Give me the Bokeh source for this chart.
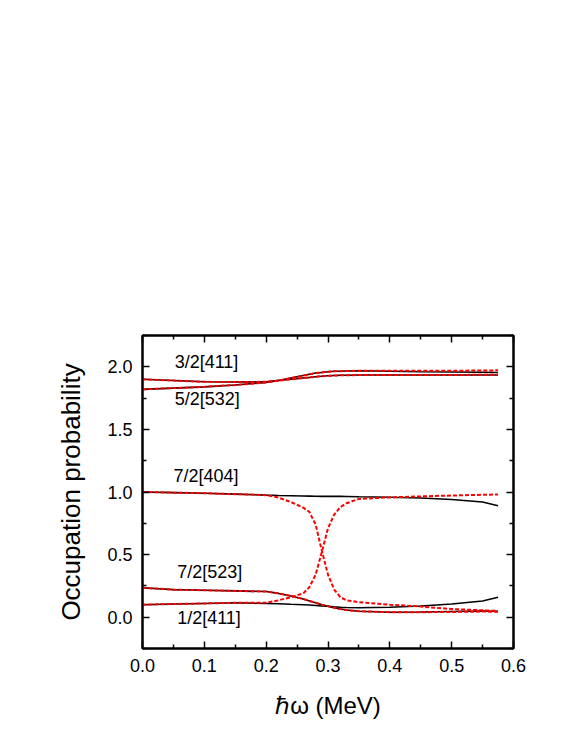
from bokeh.plotting import figure
from bokeh.models import (LinearAxis, Range1d, FixedTicker, CustomJSTickFormatter,
                          PrintfTickFormatter, Label)
from bokeh.embed import file_html
from bokeh.resources import INLINE

# shared rotational frequency grid (MeV)
hw = [0.0, 0.05, 0.1, 0.15, 0.2, 0.22, 0.24, 0.26, 0.27, 0.28, 0.29, 0.30,
      0.31, 0.32, 0.33, 0.35, 0.4, 0.45, 0.5, 0.55, 0.575]

# black solid curves
blk_upper_top = [1.90, 1.89, 1.88, 1.878, 1.88, 1.89, 1.90, 1.91, 1.915, 1.92, 1.925,
                 1.928, 1.93, 1.932, 1.933, 1.934, 1.934, 1.934, 1.934, 1.934, 1.934]
blk_lower_top = [1.82, 1.83, 1.84, 1.855, 1.875, 1.89, 1.91, 1.93, 1.94, 1.95, 1.955,
                 1.96, 1.965, 1.965, 1.967, 1.968, 1.965, 1.96, 1.958, 1.956, 1.955]
blk_404 = [1.0, 0.995, 0.99, 0.983, 0.975, 0.972, 0.97, 0.968, 0.967, 0.966, 0.965,
           0.965, 0.965, 0.965, 0.964, 0.962, 0.958, 0.952, 0.94, 0.92, 0.89]
blk_523 = [0.235, 0.22, 0.215, 0.21, 0.205, 0.19, 0.17, 0.145, 0.13, 0.115, 0.1,
           0.088, 0.075, 0.065, 0.057, 0.048, 0.04, 0.042, 0.046, 0.05, 0.048]
blk_411 = [0.10, 0.105, 0.11, 0.115, 0.11, 0.107, 0.103, 0.1, 0.097, 0.094, 0.09,
           0.087, 0.083, 0.08, 0.078, 0.075, 0.08, 0.09, 0.105, 0.13, 0.16]

# red dashed curves
red_upper_top = [1.90, 1.89, 1.88, 1.878, 1.88, 1.89, 1.90, 1.91, 1.915, 1.92, 1.925,
                 1.928, 1.93, 1.932, 1.933, 1.934, 1.934, 1.935, 1.935, 1.936, 1.936]
red_lower_top = [1.82, 1.83, 1.84, 1.855, 1.875, 1.89, 1.91, 1.93, 1.94, 1.95, 1.955,
                 1.96, 1.965, 1.965, 1.967, 1.968, 1.968, 1.968, 1.969, 1.97, 1.972]
red_404 = [1.0, 0.995, 0.99, 0.983, 0.975, 0.955, 0.92, 0.875, 0.84, 0.74, 0.53,
           0.34, 0.22, 0.16, 0.135, 0.12, 0.1, 0.085, 0.065, 0.055, 0.05]
red_523 = [0.235, 0.22, 0.215, 0.21, 0.205, 0.19, 0.17, 0.145, 0.13, 0.115, 0.1,
           0.088, 0.075, 0.065, 0.057, 0.048, 0.04, 0.04, 0.042, 0.045, 0.043]
red_411 = [0.10, 0.105, 0.11, 0.115, 0.115, 0.135, 0.16, 0.19, 0.24, 0.34, 0.52,
           0.71, 0.82, 0.88, 0.91, 0.945, 0.957, 0.965, 0.972, 0.978, 0.98]

# orbital labels
lbl_text = ["3/2[411]", "5/2[532]", "7/2[404]", "7/2[523]", "1/2[411]"]
lbl_x = [0.052, 0.052, 0.050, 0.056, 0.056]
lbl_y = [2.037, 1.743, 1.13, 0.358, -0.008]

x_ticks = [0.0, 0.1, 0.2, 0.3, 0.4, 0.5, 0.6]
x_minor = [0.05, 0.15, 0.25, 0.35, 0.45, 0.55]
y_ticks = [0.0, 0.5, 1.0, 1.5, 2.0]
y_minor = [-0.25, 0.25, 0.75, 1.25, 1.75, 2.25]

FONT = "Liberation Sans"

p = figure(frame_width=371, frame_height=313, min_border_left=142, min_border_top=335,
           min_border_right=60, min_border_bottom=96,
           x_range=Range1d(0, 0.6), y_range=Range1d(-0.25, 2.25),
           output_backend="svg", toolbar_location=None,
           x_axis_label="ℏω (MeV)", y_axis_label="Occupation probability")
p.grid.visible = False
p.outline_line_color = "black"
p.outline_line_width = 2
p.background_fill_color = "white"
p.border_fill_color = "white"


def style_axis(ax, ticks, minor, show_labels):
    ax.ticker = FixedTicker(ticks=ticks, minor_ticks=minor)
    ax.axis_line_width = 2
    ax.axis_line_color = "black"
    ax.major_tick_in = 7
    ax.major_tick_out = 0
    ax.minor_tick_in = 4
    ax.minor_tick_out = 0
    ax.major_tick_line_width = 1.5
    ax.minor_tick_line_width = 1.5
    ax.major_label_text_font = FONT
    ax.major_label_text_font_size = "18px"
    ax.major_label_text_color = "black"
    ax.axis_label_text_font = FONT
    ax.axis_label_text_font_size = "24px"
    ax.axis_label_text_font_style = "normal"
    ax.axis_label_text_color = "black"
    if show_labels:
        ax.formatter = PrintfTickFormatter(format="%.1f")
    else:
        ax.formatter = CustomJSTickFormatter(code="return '';")
        ax.major_label_text_font_size = "0px"


style_axis(p.xaxis[0], x_ticks, x_minor, True)
style_axis(p.yaxis[0], y_ticks, y_minor, True)
p.yaxis[0].axis_label_text_font_size = "26px"
p.xaxis[0].major_label_standoff = 10
p.xaxis[0].axis_label_standoff = 17
p.yaxis[0].major_label_standoff = 10
p.yaxis[0].axis_label_standoff = 18

top = LinearAxis()
right = LinearAxis()
style_axis(top, x_ticks, x_minor, False)
style_axis(right, y_ticks, y_minor, False)
p.add_layout(top, "above")
p.add_layout(right, "right")

for ys in [blk_upper_top, blk_lower_top, blk_404, blk_523, blk_411]:
    p.line(hw, ys, line_color="black", line_width=1.6)

for ys in [red_upper_top, red_lower_top, red_404, red_523, red_411]:
    p.line(hw, ys, line_color="#ff0000", line_width=2, line_dash="4 2")

for t, lx, ly in zip(lbl_text, lbl_x, lbl_y):
    p.add_layout(Label(x=lx, y=ly, text=t, text_font=FONT, text_font_size="18px",
                       text_color="black", text_baseline="middle", text_align="left"))

open("out.html", "w").write(file_html(p, INLINE))
